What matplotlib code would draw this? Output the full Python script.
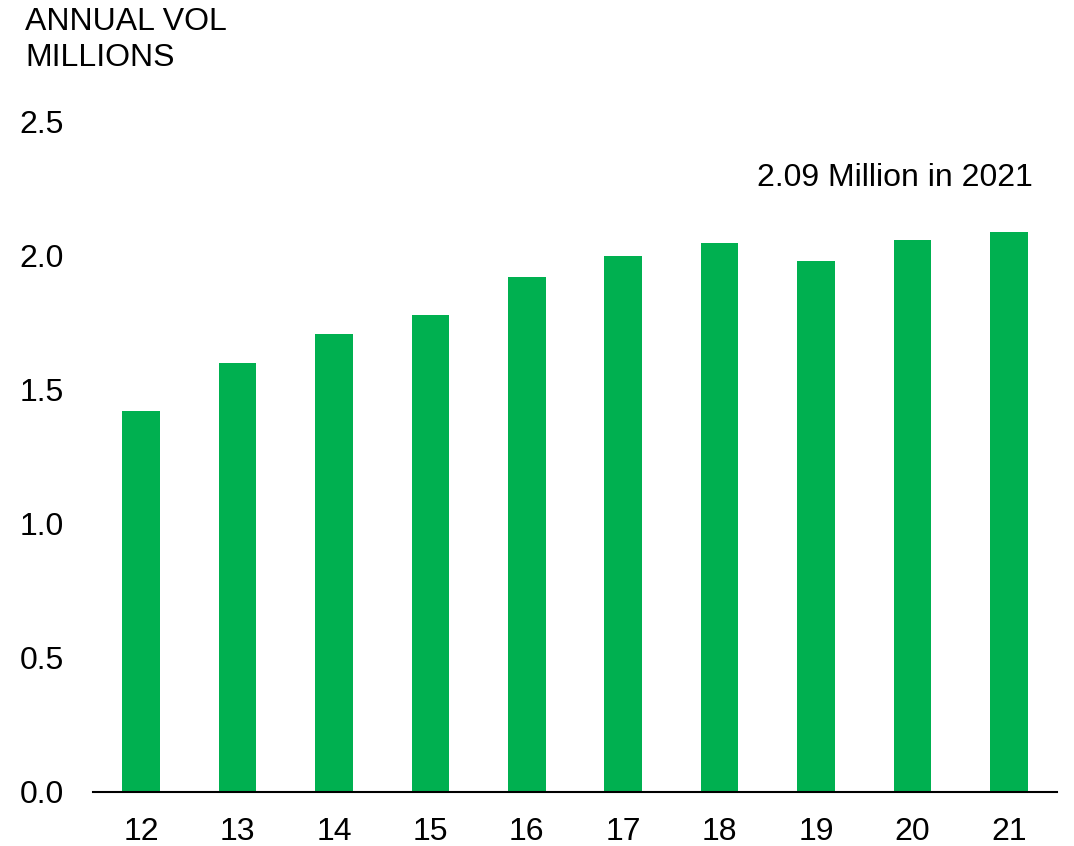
import matplotlib
matplotlib.use("Agg")
import matplotlib.pyplot as plt

years = ["12", "13", "14", "15", "16", "17", "18", "19", "20", "21"]
volume = [1.42, 1.60, 1.71, 1.78, 1.92, 2.00, 2.05, 1.98, 2.06, 2.09]
y_ticks = [0.0, 0.5, 1.0, 1.5, 2.0, 2.5]

plt.rcParams["font.family"] = ["Liberation Sans", "DejaVu Sans"]

fig = plt.figure(figsize=(10.74, 8.46), dpi=100)
ax = fig.add_axes([0.0866, 0.0644, 0.8976, 0.7914])

ax.bar(range(len(years)), volume, width=0.39, color="#00B050")
ax.set_xlim(-0.5, len(years) - 0.5)
ax.set_ylim(0, 2.5)

ax.set_xticks(range(len(years)))
ax.set_xticklabels(years)
ax.set_yticks(y_ticks)
ax.set_yticklabels([f"{v:.1f}" for v in y_ticks])
ax.tick_params(axis="both", length=0, labelsize=23)
ax.tick_params(axis="x", pad=18)
ax.tick_params(axis="y", pad=21)

for side in ["top", "right", "left"]:
    ax.spines[side].set_visible(False)
ax.spines["bottom"].set_linewidth(1.5)

fig.text(25 / 1074, 1 - 7 / 846, "ANNUAL VOL\nMILLIONS", fontsize=23,
         va="top", ha="left", linespacing=1.25)
fig.text(1033 / 1074, 1 - 178 / 846, "2.09 Million in 2021", fontsize=23,
         va="center", ha="right")

fig.savefig("out.png", dpi=100)
